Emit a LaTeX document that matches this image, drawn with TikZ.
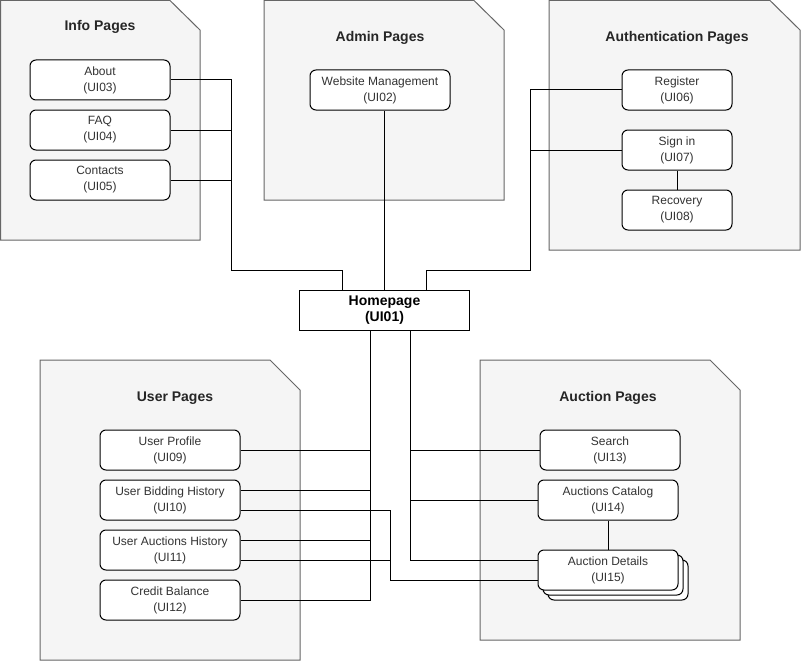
\documentclass[tikz,border=0pt]{standalone}
\usepackage{fontspec}
\setmainfont{Liberation Sans}
\usetikzlibrary{shadows}
\definecolor{pagefill}{HTML}{F5F5F5}
\definecolor{pageline}{HTML}{666666}
\definecolor{labeltext}{HTML}{333333}
\begin{document}
\begin{tikzpicture}[x=1pt,y=-1pt,
  page/.style={fill=pagefill,draw=pageline,line width=1pt},
  pagetitle/.style={font=\fontsize{14}{16}\selectfont\bfseries,text=black!85},
  ui/.style={draw,fill=white,rounded corners=6pt,minimum width=140pt,minimum height=40pt,
    inner sep=0pt,align=center,font=\fontsize{12}{16}\selectfont,text=labeltext,line width=1pt},
  uismall/.style={ui,minimum width=110pt},
  link/.style={draw,line width=1pt}]
\useasboundingbox (0,0) rectangle (801,661);
% page groups
\draw[page] (0.5,0.5) -- (170,0.5) -- (200,30) -- (200,240) -- (0.5,240) -- cycle;
\draw[page] (264,0.5) -- (474,0.5) -- (504,30) -- (504,200) -- (264,200) -- cycle;
\draw[page] (549,0.5) -- (770,0.5) -- (800,30) -- (800,250) -- (549,250) -- cycle;
\draw[page] (40,360) -- (270,360) -- (300,390) -- (300,660) -- (40,660) -- cycle;
\draw[page] (480,360) -- (710,360) -- (740,390) -- (740,640) -- (480,640) -- cycle;
\node[pagetitle] (infotitle) at (100,27) {Info Pages};
\node[pagetitle] (admintitle) at (380,38) {Admin Pages};
\node[pagetitle] (authtitle) at (677,38) {Authentication Pages};
\node[pagetitle] (usertitle) at (175,398) {User Pages};
\node[pagetitle] (auctiontitle) at (608,398) {Auction Pages};
% connectors
\coordinate (ibus) at (231,270);
\coordinate (abus) at (530,270);
\coordinate (ubus) at (370,600);
\coordinate (sbus) at (410,560);
\coordinate (dbus) at (390,580);
% nodes
\node[ui] (about) at (100,80) {About\\(UI03)};
\node[ui] (faq) at (100,130) {FAQ\\(UI04)};
\node[ui] (contacts) at (100,180) {Contacts\\(UI05)};
\node[ui] (webmgmt) at (380,90) {Website Management\\(UI02)};
\node[uismall] (reg) at (677,90) {Register\\(UI06)};
\node[uismall] (signin) at (677,150) {Sign in\\(UI07)};
\node[uismall] (recov) at (677,210) {Recovery\\(UI08)};
\node[ui,rounded corners=0pt,minimum width=170pt,text=black,
  font=\fontsize{14}{16}\selectfont\bfseries] (home) at (384.5,310) {Homepage\\(UI01)};
\node[ui] (uprof) at (170,450) {User Profile\\(UI09)};
\node[ui] (ubh) at (170,500) {User Bidding History\\(UI10)};
\node[ui] (uah) at (170,550) {User Auctions History\\(UI11)};
\node[ui] (credit) at (170,600) {Credit Balance\\(UI12)};
\node[ui] (search) at (610,450) {Search\\(UI13)};
\node[ui] (catalog) at (608,500) {Auctions Catalog\\(UI14)};
\node[ui,double copy shadow={shadow xshift=5pt,shadow yshift=-5pt}] (details) at (608,570) {Auction Details\\(UI15)};
% links
\draw[link] (about.east) -| (ibus) -| ([xshift=-42pt]home.north);
\draw[link] (faq.east) -- (faq.east -| ibus);
\draw[link] (contacts.east) -- (contacts.east -| ibus);
\draw[link] (home.north) -- (home.north |- webmgmt.south);
\draw[link] (reg.west) -| (abus) -| ([xshift=42pt]home.north);
\draw[link] (signin.west) -- (signin.west -| abus);
\draw[link] (signin) -- (recov);
\draw[link] (credit.east) -- (ubus) -- (ubus |- home.south);
\draw[link] (uprof.east) -- (uprof.east -| ubus);
\draw[link] ([yshift=10pt]ubh.east) -- ([yshift=10pt]ubh.east -| ubus);
\draw[link] ([yshift=10pt]uah.east) -- ([yshift=10pt]uah.east -| ubus);
\draw[link] ([yshift=-10pt]ubh.east) -| (dbus) -- ([yshift=-10pt]details.west);
\draw[link] ([yshift=-10pt]uah.east) -- ([yshift=-10pt]uah.east -| dbus);
\draw[link] (sbus |- home.south) -- (sbus) -- ([yshift=10pt]details.west);
\draw[link] (search.west) -- (search.west -| sbus);
\draw[link] (catalog.west) -- (catalog.west -| sbus);
\draw[link] (catalog) -- (details);
\end{tikzpicture}
\end{document}
